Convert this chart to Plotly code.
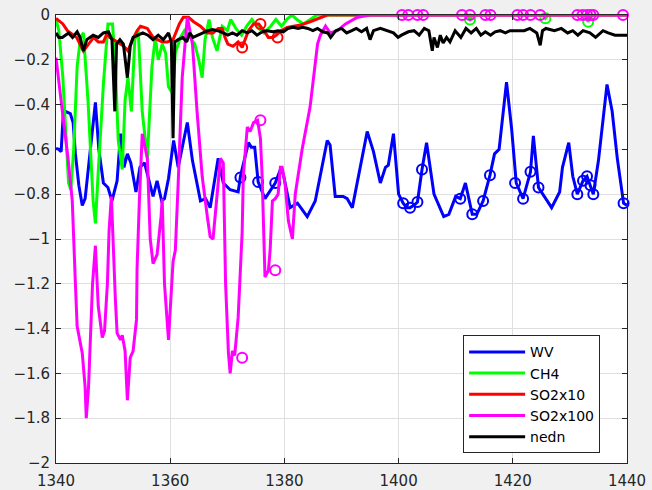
import plotly.graph_objects as go

# ---- spectra (wavenumber, cm-1) ----
wv_x = [1340.0, 1340.5, 1340.9, 1341.3, 1341.6, 1342.5, 1343.0, 1343.4, 1344.0, 1344.6, 1345.1,
        1346.2, 1346.9, 1347.5, 1348.3, 1349.1, 1349.8, 1350.7, 1351.3, 1351.9, 1352.5, 1353.1,
        1354.0, 1354.7, 1355.5, 1356.4, 1357.0, 1357.7, 1358.5, 1359.0, 1359.7, 1360.6, 1361.4,
        1363.0, 1363.9, 1365.3, 1366.2, 1367.0, 1368.4, 1369.3, 1370.5, 1371.9, 1372.3, 1373.7,
        1374.2, 1374.8, 1375.4, 1376.6, 1378.4, 1379.3, 1379.8, 1381.0, 1382.3, 1384.0, 1385.4,
        1387.5, 1388.0, 1388.9, 1390.3, 1391.0, 1391.9, 1394.5, 1395.6, 1396.8, 1397.7, 1398.2,
        1399.1, 1400.0, 1400.8, 1401.4, 1402.0, 1402.7, 1403.3, 1404.1, 1404.9, 1406.2, 1407.9,
        1408.8, 1410.0, 1410.8, 1411.7, 1412.9, 1413.7, 1414.8, 1416.0, 1416.8, 1417.6, 1418.9,
        1419.8, 1420.6, 1421.8, 1423.1, 1423.6, 1424.5, 1426.1, 1426.8, 1428.2, 1428.7, 1429.8,
        1430.5, 1431.3, 1432.3, 1433.0, 1433.6, 1434.1, 1435.0, 1436.5, 1437.4, 1438.3, 1439.4,
        1440.0]
wv_y = [-0.595, -0.60, -0.61, -0.43, -0.43, -0.44, -0.48, -0.62, -0.76, -0.85, -0.82,
        -0.57, -0.39, -0.60, -0.75, -0.77, -0.83, -0.74, -0.53, -0.68, -0.62, -0.66,
        -0.79, -0.68, -0.66, -0.75, -0.81, -0.74, -0.83, -0.82, -0.73, -0.56, -0.68,
        -0.48, -0.65, -0.83, -0.82, -0.86, -0.64, -0.75, -0.78, -0.79, -0.72, -0.57,
        -0.59, -0.59, -0.745, -0.82, -0.75, -0.69, -0.71, -0.86, -0.84, -0.90, -0.83,
        -0.56, -0.58, -0.81, -0.81, -0.82, -0.86, -0.52, -0.61, -0.75, -0.68, -0.67,
        -0.53, -0.80, -0.84, -0.86, -0.86, -0.85, -0.835, -0.69, -0.57, -0.80, -0.90,
        -0.89, -0.81, -0.82, -0.75, -0.89, -0.89, -0.83, -0.715, -0.62, -0.60, -0.30,
        -0.51, -0.75, -0.82, -0.70, -0.54, -0.77, -0.83, -0.86, -0.79, -0.68, -0.57,
        -0.72, -0.80, -0.74, -0.72, -0.76, -0.80, -0.65, -0.31, -0.43, -0.64, -0.84,
        -0.85]

ch4_x = [1340.0, 1340.5, 1341.2, 1341.7, 1342.2, 1342.6, 1343.1, 1343.7, 1344.3, 1344.8, 1345.6,
         1346.5, 1346.9, 1347.4, 1348.3, 1349.1, 1349.9, 1350.4, 1350.9, 1351.6, 1352.1, 1352.6,
         1353.2, 1353.8, 1354.4, 1355.1, 1356.0, 1356.8, 1357.4, 1357.9, 1358.6, 1359.2, 1359.7,
         1360.4, 1360.9, 1361.8, 1362.5, 1363.5, 1364.3, 1365.0, 1365.6, 1366.1, 1366.8, 1367.4,
         1368.2, 1369.1, 1370.0, 1370.6, 1371.5, 1372.5, 1373.4, 1374.3, 1375.5, 1376.4, 1377.6,
         1378.5, 1379.5, 1380.4, 1381.3, 1382.2, 1383.3, 1384.5, 1385.7, 1412.0, 1412.5, 1413.0,
         1425.2, 1425.7, 1426.2, 1432.6, 1433.2, 1433.8, 1440.0]
ch4_y = [-0.02, -0.07, -0.28, -0.55, -0.75, -0.78, -0.60, -0.23, -0.10, -0.08, -0.38,
         -0.83, -0.93, -0.70, -0.31, -0.04, -0.04, -0.23, -0.56, -0.69, -0.38, -0.28,
         -0.43, -0.11, -0.07, -0.43, -0.64, -0.23, -0.10, -0.20, -0.13, -0.17, -0.32,
         -0.35, -0.17, -0.10, -0.07, -0.10, -0.13, -0.20, -0.28, -0.11, -0.02, -0.10,
         -0.16, -0.05, -0.07, -0.02, -0.06, -0.09, -0.05, -0.02, -0.06, -0.08, -0.05,
         -0.02, -0.05, -0.02, 0.0, -0.02, -0.04, -0.02, 0.0, 0.0, -0.02, 0.0,
         0.0, -0.015, 0.0, 0.0, -0.03, 0.0, 0.0]

so2x10_x = [1340.0, 1341.2, 1342.0, 1343.6, 1344.8, 1345.7, 1346.6, 1347.4, 1348.3, 1349.0, 1349.4,
            1350.7, 1351.9, 1352.6, 1353.4, 1354.2, 1354.8, 1356.0, 1357.0, 1358.6, 1359.5, 1360.5,
            1361.6, 1362.3, 1363.2, 1364.1, 1365.3, 1366.5, 1367.5, 1368.4, 1369.1, 1369.6, 1370.1,
            1371.0, 1371.9, 1372.6, 1373.2, 1373.7, 1374.6, 1375.5, 1376.4, 1377.2, 1378.0, 1378.6,
            1379.4, 1380.5, 1381.6, 1382.8, 1384.5, 1386.3, 1387.5, 1440.0]
so2x10_y = [-0.015, -0.04, -0.07, -0.10, -0.16, -0.13, -0.10, -0.12, -0.12, -0.08, -0.10,
            -0.12, -0.14, -0.16, -0.11, -0.07, -0.05, -0.06, -0.10, -0.12, -0.12, -0.11,
            -0.04, -0.01, -0.01, -0.03, -0.05, -0.08, -0.08, -0.06, -0.06, -0.10, -0.13,
            -0.14, -0.12, -0.145, -0.10, -0.07, -0.04, -0.04, -0.07, -0.10, -0.10, -0.09,
            -0.07, -0.055, -0.05, -0.045, -0.03, -0.01, 0.0, 0.0]

so2x100_x = [1340.0, 1340.75, 1341.3, 1342.15, 1342.85, 1343.4, 1343.7, 1344.6, 1345.1, 1345.3, 1345.7,
             1346.4, 1346.9, 1347.4, 1348.1, 1348.5, 1349.0, 1349.3, 1349.7, 1350.4, 1350.7, 1351.3,
             1351.6, 1352.1, 1352.5, 1353.0, 1353.5, 1354.1, 1354.2, 1354.6, 1355.1, 1356.0, 1356.5,
             1357.0, 1357.7, 1358.4, 1358.6, 1359.0, 1359.7, 1360.5, 1360.9, 1361.4, 1362.1, 1363.0,
             1363.9, 1364.7, 1365.6, 1366.5, 1367.0, 1367.5, 1368.2, 1368.8, 1369.3, 1369.7, 1370.2,
             1370.5, 1370.9, 1371.3, 1371.9, 1372.6, 1372.8, 1373.5, 1374.0, 1374.6, 1375.3, 1375.8,
             1376.1, 1376.6, 1377.0, 1377.2, 1377.5, 1377.9, 1378.4, 1378.9, 1379.3, 1379.6, 1380.1,
             1380.7, 1381.4, 1381.9, 1383.1, 1383.7, 1384.5, 1385.8, 1386.3, 1387.2, 1388.0, 1389.3,
             1390.7, 1392.8, 1395.0, 1440.0]
so2x100_y = [-0.19, -0.34, -0.47, -0.65, -0.83, -1.20, -1.39, -1.51, -1.66, -1.80, -1.66,
             -1.20, -1.03, -1.30, -1.44, -1.41, -1.20, -0.96, -0.81, -1.27, -1.42, -1.45,
             -1.43, -1.50, -1.72, -1.53, -1.50, -1.36, -1.13, -0.83, -0.53, -0.64, -1.00,
             -1.11, -1.07, -0.90, -0.82, -1.20, -1.45, -1.10, -1.05, -0.75, -0.28, -0.01,
             -0.13, -0.43, -0.72, -0.90, -0.99, -1.00, -0.80, -0.64, -0.66, -1.20, -1.51,
             -1.60, -1.50, -1.52, -1.35, -0.97, -0.72, -0.50, -0.52, -0.48, -0.47, -0.55,
             -0.72, -1.17, -1.15, -1.14, -1.05, -0.83, -0.82, -0.80, -0.68, -0.68, -0.75,
             -0.92, -1.00, -0.80, -0.60, -0.51, -0.41, -0.13, -0.09, -0.05, -0.08, -0.07,
             -0.04, -0.01, 0.0, 0.0]

nedn_x = [1340.0, 1340.5, 1341.1, 1341.6, 1342.2, 1342.9, 1343.7, 1344.2, 1344.8, 1345.4, 1345.9,
          1346.5, 1347.4, 1348.3, 1349.2, 1349.8, 1350.3, 1350.6, 1351.2, 1351.8, 1352.5, 1353.0,
          1353.5, 1354.4, 1355.2, 1356.1, 1357.0, 1357.9, 1358.8, 1359.7, 1360.2, 1360.5, 1360.8,
          1361.4, 1362.2, 1362.9, 1363.4, 1364.0, 1364.9, 1365.7, 1366.6, 1367.4, 1368.3, 1369.3,
          1370.1, 1370.9, 1371.7, 1372.6, 1373.5, 1374.3, 1375.2, 1376.1, 1377.0, 1378.0, 1378.9,
          1379.8, 1380.6, 1381.5, 1382.4, 1383.2, 1384.1, 1385.0, 1385.8, 1386.7, 1387.6, 1388.1,
          1389.0, 1390.0, 1390.9, 1391.8, 1392.6, 1393.5, 1394.4, 1395.0, 1395.6, 1396.8, 1398.0,
          1399.1, 1399.9, 1400.5, 1401.7, 1402.7, 1403.6, 1404.5, 1405.3, 1405.9, 1406.2, 1406.8,
          1407.3, 1407.8, 1408.4, 1409.0, 1409.9, 1410.9, 1411.8, 1412.7, 1413.6, 1414.4, 1415.2,
          1416.1, 1416.9, 1417.8, 1418.7, 1419.5, 1420.8, 1422.0, 1423.0, 1424.2, 1424.8, 1425.2,
          1425.8, 1427.3, 1428.5, 1429.6, 1430.5, 1431.4, 1432.3, 1433.5, 1434.5, 1435.3, 1435.8,
          1436.7, 1437.9, 1439.0, 1440.0]
nedn_y = [-0.08, -0.10, -0.10, -0.09, -0.08, -0.10, -0.075, -0.10, -0.16, -0.11, -0.10,
          -0.09, -0.10, -0.08, -0.075, -0.11, -0.43, -0.13, -0.11, -0.13, -0.28, -0.14,
          -0.10, -0.09, -0.08, -0.09, -0.11, -0.09, -0.11, -0.08, -0.12, -0.55, -0.12,
          -0.11, -0.10, -0.12, -0.08, -0.10, -0.09, -0.08, -0.07, -0.065, -0.07, -0.08,
          -0.09, -0.08, -0.09, -0.07, -0.08, -0.07, -0.09, -0.075, -0.07, -0.075, -0.07,
          -0.075, -0.06, -0.055, -0.06, -0.055, -0.06, -0.07, -0.06, -0.075, -0.08, -0.10,
          -0.07, -0.06, -0.08, -0.07, -0.06, -0.075, -0.06, -0.11, -0.07, -0.06, -0.07,
          -0.08, -0.10, -0.09, -0.075, -0.07, -0.09, -0.06, -0.07, -0.16, -0.10, -0.145,
          -0.09, -0.125, -0.10, -0.12, -0.07, -0.10, -0.06, -0.08, -0.06, -0.09, -0.075,
          -0.09, -0.075, -0.07, -0.08, -0.07, -0.07, -0.07, -0.06, -0.08, -0.135, -0.07,
          -0.06, -0.07, -0.06, -0.08, -0.07, -0.09, -0.07, -0.08, -0.10, -0.08, -0.07,
          -0.08, -0.09, -0.09, -0.09]

# ---- selected channels (circled) ----
wv_sel_x = [1372.3, 1375.4, 1378.4, 1400.8, 1402.0, 1403.3, 1404.1, 1410.8, 1412.9, 1414.8,
            1416.0, 1420.4, 1421.8, 1423.1, 1424.5, 1431.3, 1432.3, 1433.0, 1433.6, 1434.1, 1439.4]
wv_sel_y = [-0.725, -0.745, -0.75, -0.84, -0.86, -0.835, -0.69, -0.82, -0.89, -0.83,
            -0.715, -0.75, -0.82, -0.70, -0.77, -0.80, -0.74, -0.72, -0.76, -0.80, -0.84]
ch4_sel_x = [1412.5, 1425.7, 1433.2]
ch4_sel_y = [-0.02, -0.015, -0.03]
so2x10_sel_x = [1372.6, 1375.8, 1378.8]
so2x10_sel_y = [-0.145, -0.04, -0.10]
so2x100_sel_x = [1372.6, 1375.8, 1378.4, 1400.6, 1401.7, 1403.3, 1404.3, 1411.1, 1412.5, 1415.2,
                 1416.1, 1420.8, 1421.8, 1423.1, 1424.8, 1431.3, 1432.2, 1433.0, 1433.6, 1434.1,
                 1439.3]
so2x100_sel_y = [-1.53, -0.47, -1.14, 0, 0, 0, 0, 0, 0, 0,
                 0, 0, 0, 0, 0, 0, 0, 0, 0, 0,
                 0]

series = [
    ("WV", wv_x, wv_y, wv_sel_x, wv_sel_y, "#0000ff"),
    ("CH4", ch4_x, ch4_y, ch4_sel_x, ch4_sel_y, "#00ff00"),
    ("SO2x10", so2x10_x, so2x10_y, so2x10_sel_x, so2x10_sel_y, "#ff0000"),
    ("SO2x100", so2x100_x, so2x100_y, so2x100_sel_x, so2x100_sel_y, "#ff00ff"),
    ("nedn", nedn_x, nedn_y, None, None, "#000000"),
]

fig = go.Figure()
for name, x, y, sx, sy, col in series:
    fig.add_trace(go.Scatter(x=x, y=y, mode="lines", name=name,
                             line=dict(color=col, width=3)))
    if sx:
        fig.add_trace(go.Scatter(x=sx, y=sy, mode="markers", showlegend=False,
                                 cliponaxis=False,
                                 marker=dict(symbol="circle-open", size=10, color=col,
                                             line=dict(width=2, color=col))))

axis_font = dict(family="DejaVu Sans, sans-serif", size=15, color="#262626")
common = dict(showgrid=True, gridcolor="#dfdfdf", gridwidth=1, zeroline=False,
              showline=True, linecolor="#262626", linewidth=1, mirror="ticks",
              ticks="inside", ticklen=5, tickcolor="#262626", tickfont=axis_font,
              automargin=False)
fig.update_xaxes(range=[1340, 1440], dtick=20, tick0=1340, ticklabelstandoff=4, **common)
fig.update_yaxes(range=[-2, 0], dtick=0.2, tick0=0, ticklabelstandoff=2, **common)

fig.update_layout(
    width=652, height=490,
    margin=dict(l=56, r=25, t=15, b=27, autoexpand=False),
    paper_bgcolor="#f0f0f0", plot_bgcolor="#ffffff",
    showlegend=True,
    legend=dict(x=0.713, y=0.285, xanchor="left", yanchor="top",
                bgcolor="#ffffff", bordercolor="#262626", borderwidth=1,
                font=dict(family="DejaVu Sans, sans-serif", size=14, color="#000000"),
                itemwidth=56, tracegroupgap=0),
)

fig.write_html("out.html")
